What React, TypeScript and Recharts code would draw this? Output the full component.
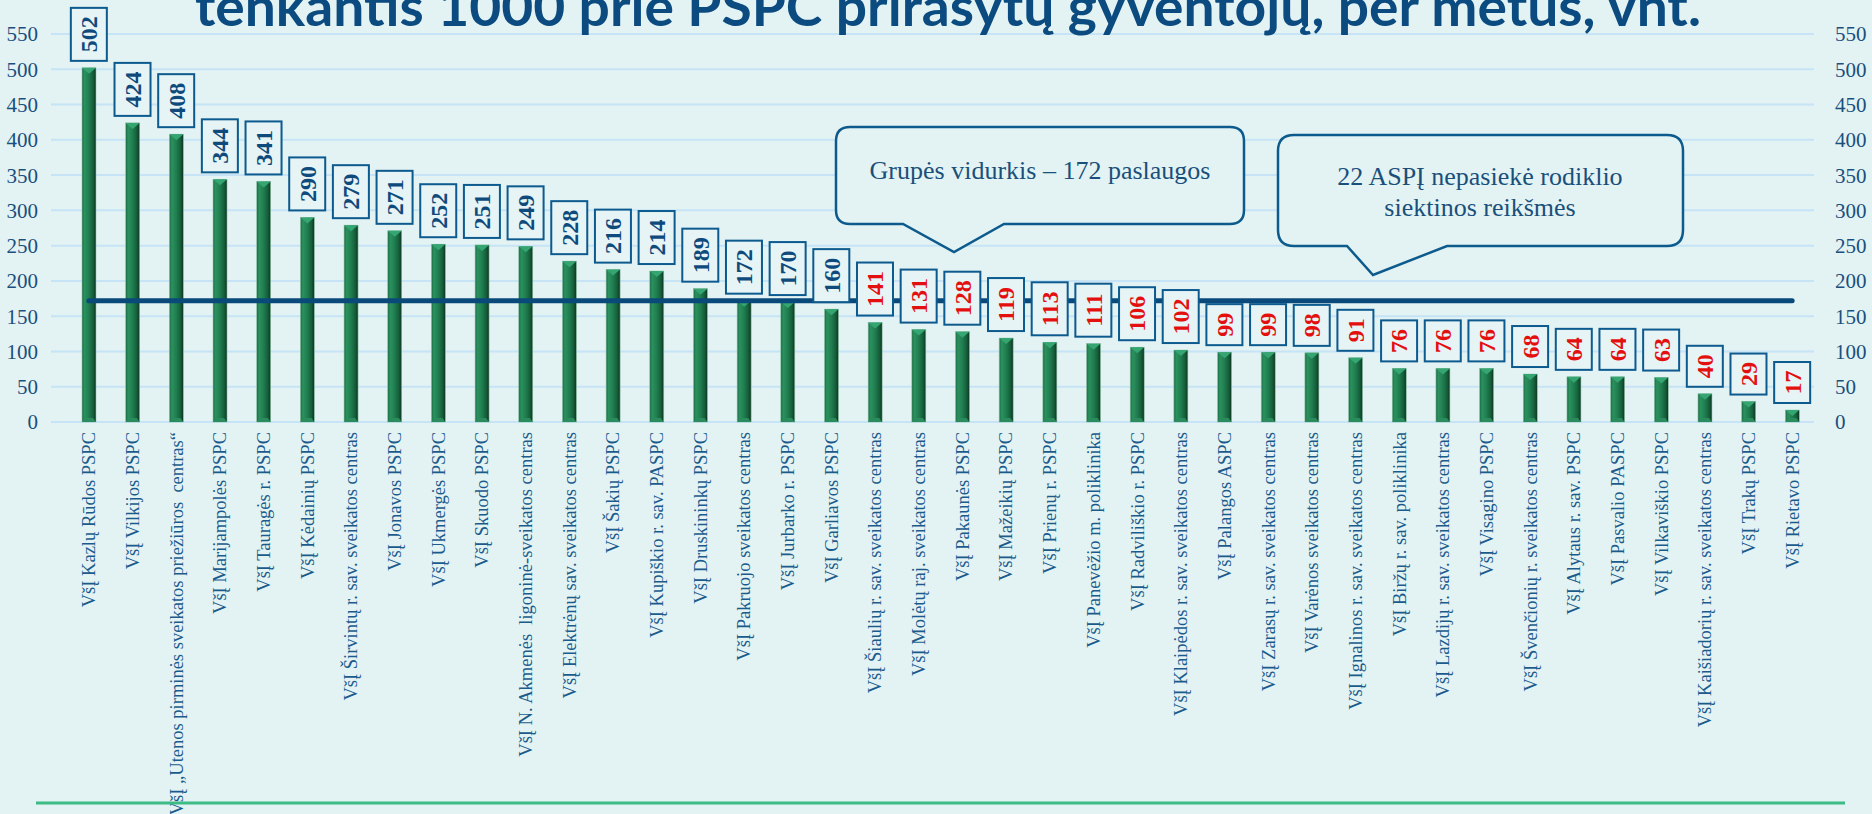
import React from 'react';
import { ComposedChart, Bar, Line, XAxis, YAxis, CartesianGrid, LabelList } from 'recharts';

const categories = [
  'VšĮ Kazlų Rūdos PSPC',
  'VšĮ Vilkijos PSPC',
  'VšĮ „Utenos pirminės sveikatos priežiūros  centras“',
  'VšĮ Marijampolės PSPC',
  'VšĮ Tauragės r. PSPC',
  'VšĮ Kėdainių PSPC',
  'VšĮ Širvintų r. sav. sveikatos centras',
  'VšĮ Jonavos PSPC',
  'VšĮ Ukmergės PSPC',
  'VšĮ Skuodo PSPC',
  'VšĮ N. Akmenės  ligoninė-sveikatos centras',
  'VšĮ Elektrėnų sav. sveikatos centras',
  'VšĮ Šakių PSPC',
  'VšĮ Kupiškio r. sav. PASPC',
  'VšĮ Druskininkų PSPC',
  'VšĮ Pakruojo sveikatos centras',
  'VšĮ Jurbarko r. PSPC',
  'VšĮ Garliavos PSPC',
  'VšĮ Šiaulių r. sav. sveikatos centras',
  'VšĮ Molėtų raj. sveikatos centras',
  'VšĮ Pakaunės PSPC',
  'VšĮ Mažeikių PSPC',
  'VšĮ Prienų r. PSPC',
  'VšĮ Panevėžio m. poliklinika',
  'VšĮ Radviliškio r. PSPC',
  'VšĮ Klaipėdos r. sav. sveikatos centras',
  'VšĮ Palangos ASPC',
  'VšĮ Zarasų r. sav. sveikatos centras',
  'VšĮ Varėnos sveikatos centras',
  'VšĮ Ignalinos r. sav. sveikatos centras',
  'VšĮ Biržų r. sav. poliklinika',
  'VšĮ Lazdijų r. sav. sveikatos centras',
  'VšĮ Visagino PSPC',
  'VšĮ Švenčionių r. sveikatos centras',
  'VšĮ Alytaus r. sav. PSPC',
  'VšĮ Pasvalio PASPC',
  'VšĮ Vilkaviškio PSPC',
  'VšĮ Kaišiadorių r. sav. sveikatos centras',
  'VšĮ Trakų PSPC',
  'VšĮ Rietavo PSPC',
];

const values = [
  502, 424, 408, 344, 341, 290, 279, 271, 252, 251,
  249, 228, 216, 214, 189, 172, 170, 160, 141, 131,
  128, 119, 113, 111, 106, 102, 99, 99, 98, 91,
  76, 76, 76, 68, 64, 64, 63, 40, 29, 17,
];

const groupAverage = 172;
const targetValue = 150;
const yTicks = [0, 50, 100, 150, 200, 250, 300, 350, 400, 450, 500, 550];

const titleText = 'tenkantis 1000 prie PSPC prirašytų gyventojų, per metus, vnt.';
const callout1Text = 'Grupės vidurkis – 172 paslaugos';
const callout2Lines = ['22 ASPĮ nepasiekė rodiklio', 'siektinos reikšmės'];

const data = categories.map((name, i) => ({ name, value: values[i], avg: groupAverage }));

const W = 1872;
const H = 814;
const BG = '#e3f3f4';
const NAVY = '#0e4b7c';
const RED = '#e3100f';
const SERIF = '"Liberation Serif", "Times New Roman", serif';

function BarShape(props: any) {
  const { x, y, width, height } = props;
  if (!height || height <= 0) return null;
  const t = Math.min(6, height / 2);
  const b = Math.min(4, height / 3);
  return (
    <g>
      <rect x={x} y={y} width={width} height={height} fill="url(#barGrad)" stroke="#8fc3aa" strokeWidth={0.6} />
      <polygon points={`${x},${y} ${x + width},${y} ${x + width / 2},${y + t}`} fill="#35a571" />
      <polygon
        points={`${x},${y + height} ${x + width},${y + height} ${x + width - 3},${y + height - b} ${x + 3},${y + height - b}`}
        fill="#2a8c5c"
      />
    </g>
  );
}

function ValueBox(props: any) {
  const vb = props.viewBox || {};
  const cx = props.x ?? vb.x;
  const top = props.y ?? vb.y;
  const value = props.value;
  if (cx == null || top == null || value == null) return null;
  const digits = String(value).length;
  const w = 36;
  const h = digits >= 3 ? 53 : 41;
  const bottom = top - 7;
  const color = value >= targetValue ? NAVY : RED;
  return (
    <g>
      <rect x={cx - w / 2} y={bottom - h} width={w} height={h} fill="#e6f4f6" stroke="#0c5a8e" strokeWidth={2} />
      <text
        transform={`translate(${cx},${bottom - h / 2}) rotate(-90)`}
        textAnchor="middle"
        dy="0.35em"
        fontFamily={SERIF}
        fontWeight={700}
        fontSize={24}
        fill={color}
      >
        {value}
      </text>
    </g>
  );
}

function XTick(props: any) {
  const { x, y, payload } = props;
  return (
    <text
      transform={`translate(${x},${y}) rotate(-90)`}
      textAnchor="end"
      dy="0.35em"
      fontFamily={SERIF}
      fontSize={18.5}
      fill="#1b5b8c"
      style={{ whiteSpace: 'pre' }}
    >
      {payload.value}
    </text>
  );
}

export default function App() {
  return (
    <div style={{ position: 'absolute', left: 0, top: 0, width: W, height: H, background: BG, overflow: 'hidden' }}>
      <svg width={0} height={0} style={{ position: 'absolute' }}>
        <defs>
          <linearGradient id="barGrad" x1="0" y1="0" x2="1" y2="0">
            <stop offset="0" stopColor="#1b6b44" />
            <stop offset="0.18" stopColor="#2b915e" />
            <stop offset="0.5" stopColor="#1f7d4f" />
            <stop offset="0.8" stopColor="#165d3a" />
            <stop offset="1" stopColor="#0b3520" />
          </linearGradient>
        </defs>
      </svg>
      <ComposedChart
        width={W}
        height={H}
        data={data}
        margin={{ top: 34, right: 0, bottom: 22, left: 0 }}
      >
        <CartesianGrid yAxisId="left" vertical={false} stroke="#c6e4f6" strokeWidth={2} />
        <XAxis
          dataKey="name"
          interval={0}
          tickLine={false}
          axisLine={false}
          tickSize={0}
          tickMargin={10}
          height={370}
          padding={{ left: 16, right: 0 }}
          tick={<XTick />}
        />
        <YAxis
          yAxisId="left"
          domain={[0, 550]}
          ticks={yTicks}
          interval={0}
          width={51}
          axisLine={false}
          tickLine={false}
          tickSize={0}
          tickMargin={13}
          tick={{ fontFamily: SERIF, fontSize: 21, fill: '#1a4f7e' }}
        />
        <YAxis
          yAxisId="right"
          orientation="right"
          domain={[0, 550]}
          ticks={yTicks}
          interval={0}
          width={58}
          axisLine={false}
          tickLine={false}
          tickSize={0}
          tickMargin={21}
          tick={{ fontFamily: SERIF, fontSize: 21, fill: '#1a4f7e', textAnchor: 'start' }}
        />
        <Bar yAxisId="left" dataKey="value" barSize={14} shape={<BarShape />} isAnimationActive={false} />
        <Line
          yAxisId="left"
          dataKey="avg"
          stroke="#0a4a7a"
          strokeWidth={5}
          strokeLinecap="round"
          dot={false}
          activeDot={false}
          isAnimationActive={false}
        />
        <Line
          yAxisId="right"
          dataKey="value"
          stroke="none"
          strokeOpacity={0}
          dot={false}
          activeDot={false}
          isAnimationActive={false}
        >
          <LabelList dataKey="value" content={<ValueBox />} />
        </Line>
      </ComposedChart>
      <svg width={W} height={H} style={{ position: 'absolute', left: 0, top: 0, pointerEvents: 'none' }}>
        <text
          x={195}
          y={26}
          textLength={1506}
          lengthAdjust="spacingAndGlyphs"
          fontFamily='Lato, "Open Sans", sans-serif'
          fontWeight={700}
          fontSize={54}
          fill="#0b4b80"
        >
          {titleText}
        </text>
        <path
          d="M850 127 H1230 Q1244 127 1244 141 V210 Q1244 224 1230 224 H1004 L954 252 L903 224 H850 Q836 224 836 210 V141 Q836 127 850 127 Z"
          fill={BG}
          stroke="#0d5a8c"
          strokeWidth={2.5}
        />
        <text x={1040} y={179} textAnchor="middle" fontFamily={SERIF} fontSize={26} fill="#1a4f7a">
          {callout1Text}
        </text>
        <path
          d="M1294 135 H1667 Q1683 135 1683 151 V230 Q1683 246 1667 246 H1447 L1373 275 L1347 246 H1294 Q1278 246 1278 230 V151 Q1278 135 1294 135 Z"
          fill={BG}
          stroke="#0d5a8c"
          strokeWidth={2.5}
        />
        {callout2Lines.map((line, i) => (
          <text key={i} x={1480} y={185 + i * 31} textAnchor="middle" fontFamily={SERIF} fontSize={26} fill="#1a4f7a">
            {line}
          </text>
        ))}
        <line x1={36} y1={803} x2={1845} y2={803} stroke="#3dbb84" strokeWidth={3} />
      </svg>
    </div>
  );
}
